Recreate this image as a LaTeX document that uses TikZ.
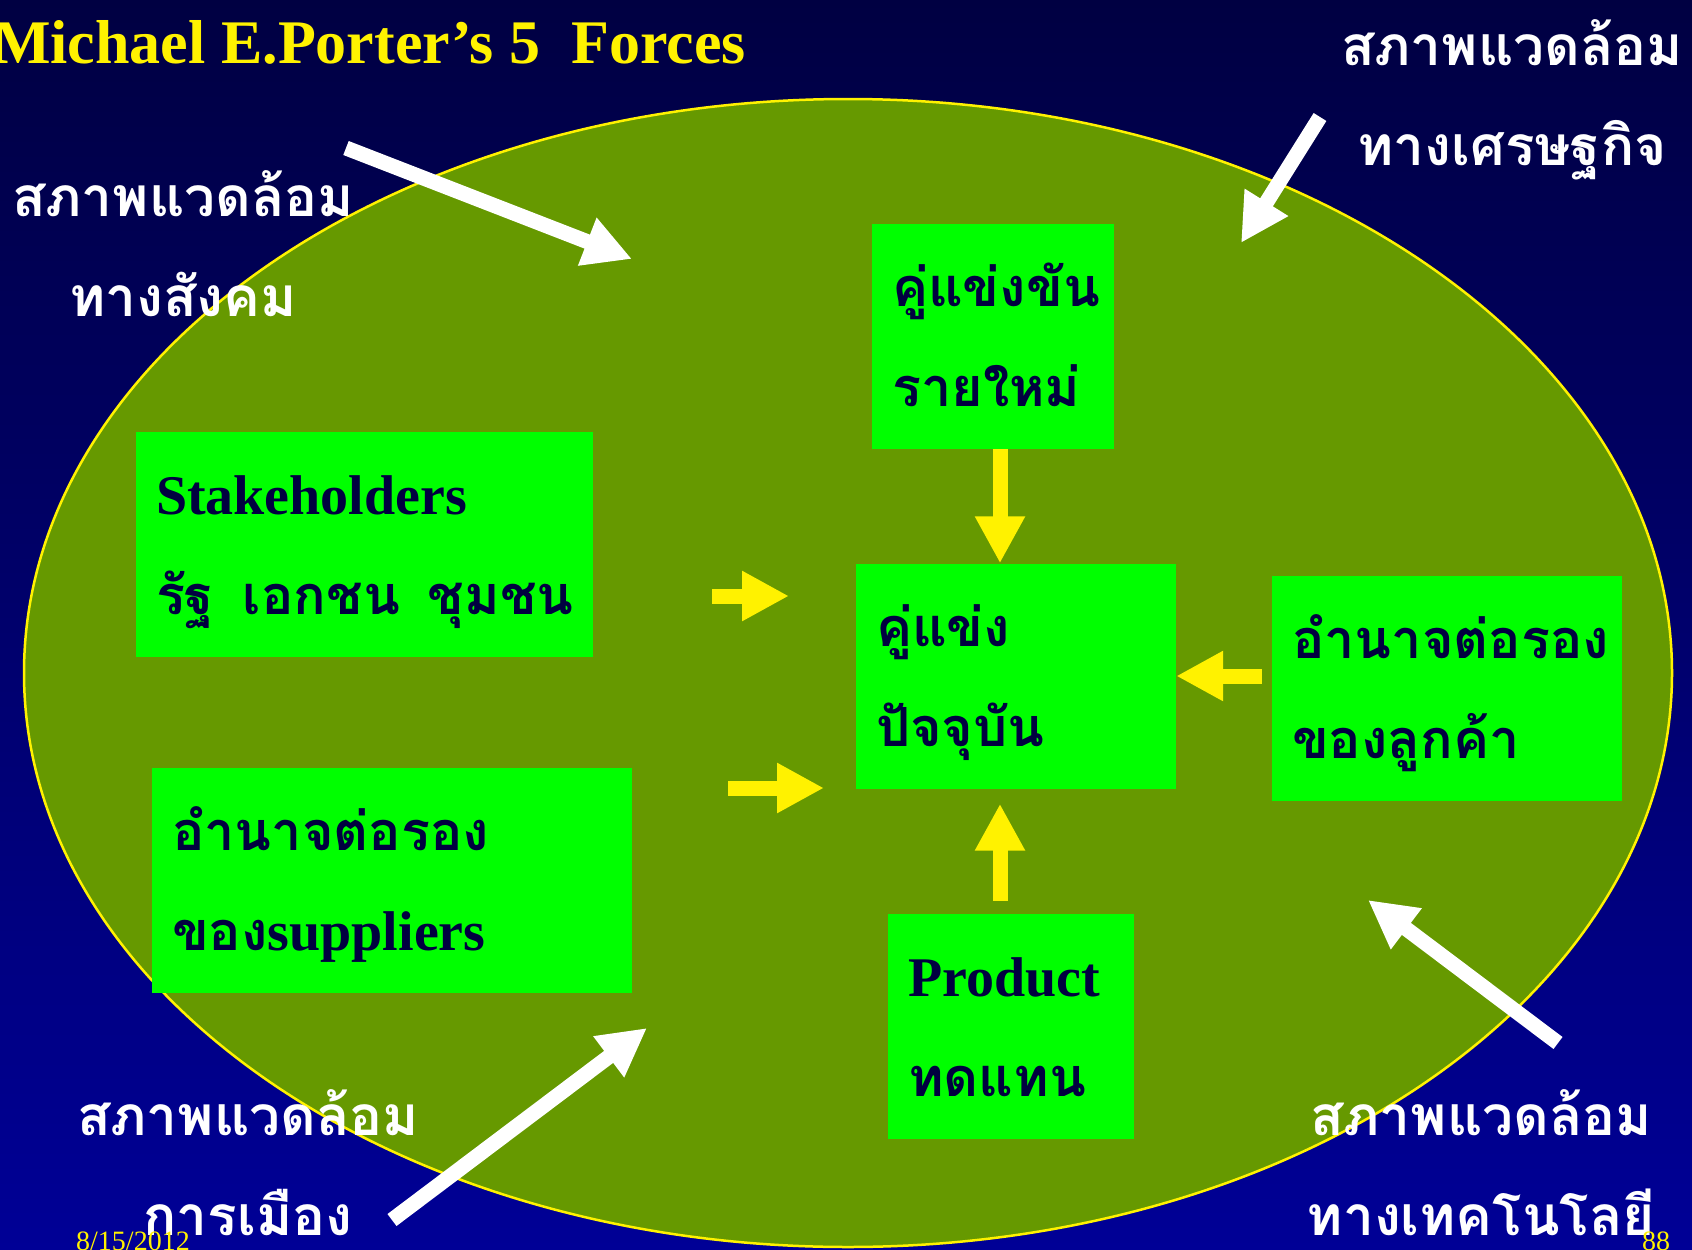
\documentclass[tikz,border=0pt]{standalone}
\usepackage{fontspec}
\setmainfont{Liberation Serif}
\newfontfamily\thai[Script=Thai]{Loma}
\usetikzlibrary{positioning, arrows.meta}
\definecolor{navytop}{RGB}{0, 0, 66}
\definecolor{navymid}{RGB}{0, 0, 128}
\definecolor{navybottom}{RGB}{0, 0, 150}
\definecolor{field}{RGB}{102, 153, 0}
\definecolor{boxgreen}{RGB}{0, 255, 0}
\definecolor{ink}{RGB}{0, 0, 64}
\newcommand{\forcetext}[2]{\strut #1\\\strut #2}
\newcommand{\latin}[1]{{\rmfamily\fontsize{56}{100}\selectfont #1}}

\begin{document}
\begin{tikzpicture}[x=1pt, y=-1pt,
    force/.style={rectangle, fill=boxgreen, text=ink, inner sep=0pt, minimum height=225pt, align=left, font=\thai\bfseries\fontsize{54}{100}\selectfont},
    envlabel/.style={text=white, inner sep=0pt, align=center, font=\thai\bfseries\fontsize{55}{100}\selectfont},
    yarrow/.style={yellow, line width=15pt, -{Triangle[length=47pt, width=47pt]}},
    warrow/.style={white, line width=15pt, -{Triangle[length=48pt, width=48pt]}},
    footer/.style={anchor=base west, text=yellow, inner sep=0pt, font=\fontsize{28}{30}\selectfont}]
    \useasboundingbox (0,0) rectangle (1692,1250);
    \shade[top color=navytop, middle color=navymid, bottom color=navybottom] (0,0) rectangle (1692,1250);
    \draw[yellow, line width=2.5pt, fill=field] (848,673) ellipse [x radius=824pt, y radius=574pt];

    \coordinate (soc-tail) at (346,148);  \coordinate (soc-tip) at (632,259);
    \coordinate (eco-tail) at (1320,117); \coordinate (eco-tip) at (1241,243);
    \coordinate (pol-tail) at (392,1220); \coordinate (pol-tip) at (647,1028);
    \coordinate (tech-tail) at (1558,1043); \coordinate (tech-tip) at (1368,900);
    \draw[warrow] (soc-tail) -- (soc-tip);
    \draw[warrow] (eco-tail) -- (eco-tip);
    \draw[warrow] (pol-tail) -- (pol-tip);
    \draw[warrow] (tech-tail) -- (tech-tip);

    \node[envlabel] (social) at (183,246) {\forcetext{สภาพแวดล้อม}{ทางสังคม}};
    \node[envlabel] (economic) at (1512,95) {\forcetext{สภาพแวดล้อม}{ทางเศรษฐกิจ}};
    \node[envlabel] (political) at (248,1165) {\forcetext{สภาพแวดล้อม}{การเมือง}};
    \node[envlabel] (technology) at (1481,1165) {\forcetext{สภาพแวดล้อม}{ทางเทคโนโลยี}};

    \node[force, minimum width=320pt, text width=280pt] (current) at (1016,676) {\forcetext{คู่แข่ง}{ปัจจุบัน}};
    \node[force, minimum width=242pt, text width=202pt] (newent) at (993,336.5) {\forcetext{คู่แข่งขัน}{รายใหม่}};
    \node[force, minimum width=246pt, text width=206pt, below=125pt of current, xshift=-5pt] (product) {\forcetext{\latin{Product}}{ทดแทน}};
    \node[force, minimum width=350pt, text width=310pt] (customer) at (1447,688.5) {\forcetext{อำนาจต่อรอง}{ของลูกค้า}};
    \node[force, minimum width=457pt, text width=417pt] (stake) at (364.5,544.5) {\forcetext{\latin{Stakeholders}}{\mbox{รัฐ\hspace{28pt}เอกชน\hspace{28pt}ชุมชน}}};
    \node[force, minimum width=480pt, text width=440pt] (supplier) at (392,880) {\forcetext{อำนาจต่อรอง}{ของ\latin{suppliers}}};

    \coordinate (stake-tail) at (712,596);    \coordinate (stake-tip) at (789,596);
    \coordinate (supplier-tail) at (728,788); \coordinate (supplier-tip) at (824,788);
    \draw[yarrow] (newent.south -| 1000,0) -- (current.north -| 1000,0);
    \draw[yarrow, shorten <=13pt, shorten >=15pt] (product.north -| 1000,0) -- (current.south -| 1000,0);
    \draw[yarrow, shorten <=10pt] (customer.west |- current.east) -- (current.east);
    \draw[yarrow] (stake-tail) -- (stake-tip);
    \draw[yarrow] (supplier-tail) -- (supplier-tip);

    \node[anchor=base west, inner sep=0pt, text=yellow, font=\bfseries\fontsize{62}{70}\selectfont] (title) at (-8,63) {Michael E.Porter’s 5\ \ Forces};
    \node[footer] (date) at (76,1250) {8/15/2012};
    \node[footer] (page) at (1642,1250) {88};
\end{tikzpicture}
\end{document}
